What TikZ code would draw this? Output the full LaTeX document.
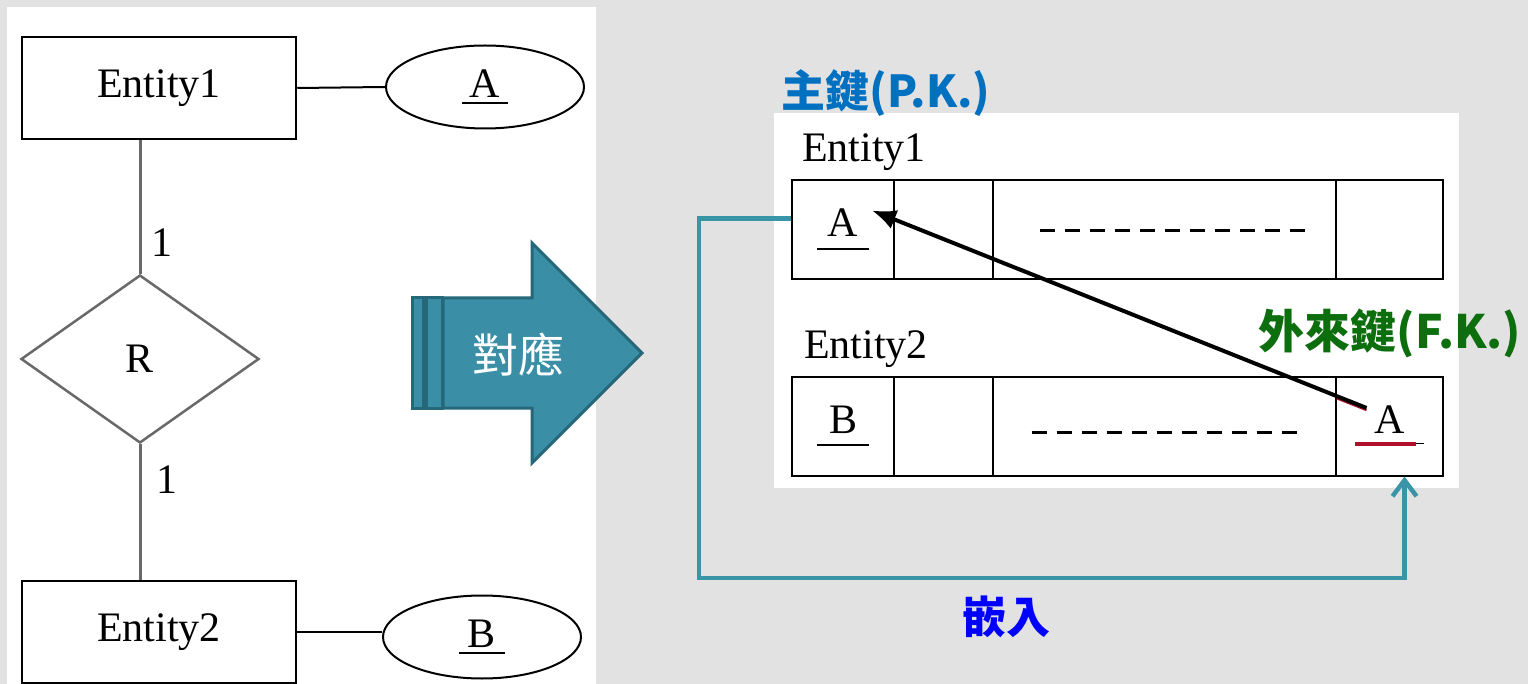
\documentclass[tikz,border=0pt]{standalone}
\usepackage{fontspec}
\setmainfont{Liberation Serif}
\newfontfamily\cjk{Noto Sans CJK TC}
\usetikzlibrary{arrows.meta,shapes.geometric,calc}

\definecolor{paper}{RGB}{226,226,226}
\definecolor{tealfill}{RGB}{58,143,166}
\definecolor{tealedge}{RGB}{38,104,122}
\definecolor{embedline}{RGB}{58,148,168}
\definecolor{pkblue}{RGB}{0,112,192}
\definecolor{fkgreen}{RGB}{12,110,12}
\definecolor{fkred}{RGB}{176,16,42}
\definecolor{relgray}{RGB}{105,105,105}

% underlined key attribute: letter over a rule of given width
\newcommand{\keyattr}[3][10pt]{\vbox{\offinterlineskip\hbox to #2{\hss #3\hss}\kern #1\hrule height 2pt}}
\newcommand{\fkattr}[1]{\vbox{\offinterlineskip\hbox to 69pt{\hss #1\hss}\kern 9pt
  \hbox{\color{fkred}\vrule width 61pt height 2pt depth 2pt\color{black}\vrule width 8pt height 1pt depth 0pt}}}

\tikzset{
  ertext/.style={font=\fontsize{42}{50}\selectfont},
  entity/.style={draw,line width=2.5pt,minimum width=274pt,minimum height=102pt,ertext},
  attr/.style={draw,ellipse,line width=2pt,minimum width=198pt,minimum height=83pt,inner sep=0pt,ertext},
  rel/.style={draw=relgray,diamond,line width=2.5pt,minimum width=238pt,minimum height=168pt,inner sep=0pt,ertext},
  relline/.style={draw=relgray,line width=3pt},
  cell/.style={draw,line width=2pt,inner sep=0pt,minimum height=99pt,ertext},
  gapline/.style={line width=3pt,dash pattern=on 15pt off 10pt},
  cjklabel/.style={font=\cjk\bfseries\fontsize{44}{50}\selectfont},
}

\begin{document}
\begin{tikzpicture}[x=1pt,y=-1pt]
  \useasboundingbox (0,0) rectangle (1528,684);
  \fill[paper] (0,0) rectangle (1528,684);
  \fill[white] (7,7) rectangle (596,684);
  \fill[white] (774,113) rectangle (1459,488);

  % ER diagram
  \node[entity] (ent1) at (159,88) {Entity1};
  \node[entity] (ent2) at (159,632) {Entity2};
  \node[attr] (attrA) at (485,87) {\keyattr[5pt]{46pt}{A}};
  \node[attr] (attrB) at (482,637) {\keyattr[5pt]{46pt}{B}};
  \node[rel] (rel) at (140,359) {R};
  \node[ertext] (card1) at (162,243) {1};
  \node[ertext] (card2) at (167,480) {1};
  \draw[line width=2pt] (ent1.east) -- (attrA.west);
  \draw[line width=2pt] (ent2.east) -- (ent2.east -| attrB.west);
  \draw[relline] (rel.north) -- (rel.north |- ent1.south);
  \draw[relline] (rel.south) -- (rel.south |- ent2.north);

  % mapping arrow
  \filldraw[fill=tealfill,draw=tealedge,line width=3pt]
    (443,298) -- (532,298) -- (532,243) -- (642,353) -- (532,463) -- (532,408) -- (443,408) -- cycle;
  \filldraw[fill=tealfill,draw=tealedge,line width=3pt] (412,298) rectangle (423,408);
  \filldraw[fill=tealfill,draw=tealedge,line width=3pt] (426,298) rectangle (442,408);
  \node[text=white,font=\cjk\fontsize{46}{50}\selectfont] (map) at (518,355) {對應};

  % relational tables
  \node[anchor=base west,inner sep=0pt,ertext] (t1name) at (802,162) {Entity1};
  \node[cell,minimum width=102pt] (t1pk) at (843,229.5) {\keyattr[11pt]{52pt}{A}};
  \node[cell,minimum width=99pt] (t1c2) at (943.5,229.5) {};
  \node[cell,minimum width=343pt] (t1c3) at (1164.5,229.5) {};
  \node[cell,minimum width=107pt] (t1c4) at (1389.5,229.5) {};

  \node[anchor=base west,inner sep=0pt,ertext] (t2name) at (804,359) {Entity2};
  \node[cell,minimum width=102pt] (t2pk) at (843,426) {\keyattr[11pt]{52pt}{B}};
  \node[cell,minimum width=99pt] (t2c2) at (943.5,426) {};
  \node[cell,minimum width=343pt] (t2c3) at (1164.5,426) {};
  \node[cell,minimum width=107pt] (t2fk) at (1389.5,426) {\fkattr{A}};

  \draw[gapline] ([xshift=-125pt,yshift=-1.5pt]t1c3.center) -- ([xshift=141pt,yshift=-1.5pt]t1c3.center);
  \draw[gapline] ([xshift=-133pt,yshift=-6pt]t2c3.center) -- ([xshift=132pt,yshift=-6pt]t2c3.center);

  \node[cjklabel,text=pkblue] (pklabel) at (886,93) {主鍵(P.K.)};
  \node[cjklabel,text=fkgreen,font=\cjk\bfseries\fontsize{46}{50}\selectfont] (fklabel) at (1390,333) {外來鍵(F.K.)};
  \node[cjklabel,text=blue] (embedlabel) at (1006,617) {嵌入};

  % foreign key points back to the primary key
  \coordinate (fkfrom) at ([shift={(-23pt,18pt)}]t2fk.center);
  \coordinate (pkto) at ([shift={(29pt,19pt)}]t1pk.center);
  \draw[fkred,line width=2.5pt] ($(fkfrom)+(0,2)$) -- ($(fkfrom)!0.06!(pkto)+(0,2)$);
  \draw[-{Latex[length=24pt,width=20pt]},line width=4pt] (fkfrom) -- (pkto);

  % key is embedded into the second table
  \coordinate (turn) at (699,578);
  \draw[embedline,line width=4.5pt,-{Straight Barb[length=16pt,width=24pt]}]
    ([yshift=11pt]t1pk.west) -| (turn) -| ([xshift=15pt]t2fk.south);
\end{tikzpicture}
\end{document}
